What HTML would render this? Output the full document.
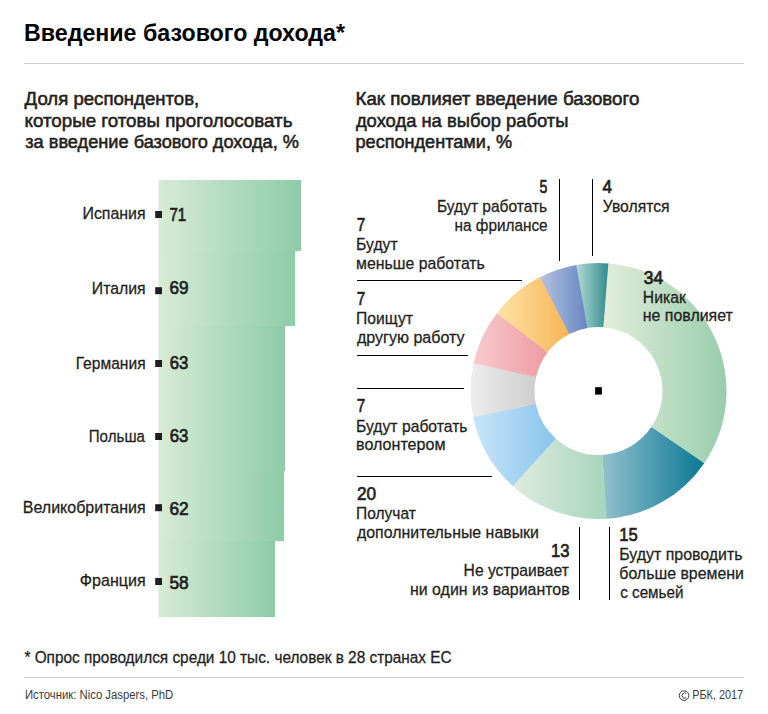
<!DOCTYPE html>
<html><head><meta charset="utf-8"><style>
html,body{margin:0;padding:0;background:#fff;width:768px;height:714px;overflow:hidden}
svg{display:block}
text{font-family:"Liberation Sans",sans-serif}
</style></head><body>
<svg width="768" height="714" viewBox="0 0 768 714">
<defs>
<linearGradient id="gb" x1="0" y1="0" x2="1" y2="0"><stop offset="0" stop-color="#d7ebd4"/><stop offset="1" stop-color="#8dcca8"/></linearGradient>
<linearGradient id="g0" x1="0" y1="0" x2="1" y2="0"><stop offset="0" stop-color="#b5ddd5"/><stop offset="1" stop-color="#2f8a8c"/></linearGradient>
<linearGradient id="g1" x1="0" y1="0" x2="1" y2="0"><stop offset="0" stop-color="#e2edda"/><stop offset="1" stop-color="#98cdac"/></linearGradient>
<linearGradient id="g2" x1="0" y1="0" x2="1" y2="0"><stop offset="0" stop-color="#92c0cd"/><stop offset="1" stop-color="#0a7894"/></linearGradient>
<linearGradient id="g3" x1="0" y1="0" x2="1" y2="0"><stop offset="0" stop-color="#dfebdf"/><stop offset="1" stop-color="#a6d5bd"/></linearGradient>
<linearGradient id="g4" x1="0" y1="0" x2="1" y2="0"><stop offset="0" stop-color="#c8e5f8"/><stop offset="1" stop-color="#88c4ec"/></linearGradient>
<linearGradient id="g5" x1="0" y1="0" x2="1" y2="0"><stop offset="0" stop-color="#ededed"/><stop offset="1" stop-color="#cdcdcd"/></linearGradient>
<linearGradient id="g6" x1="0" y1="0" x2="1" y2="0"><stop offset="0" stop-color="#f7cbcd"/><stop offset="1" stop-color="#ee9aa0"/></linearGradient>
<linearGradient id="g7" x1="0" y1="0" x2="1" y2="0"><stop offset="0" stop-color="#fee3a5"/><stop offset="1" stop-color="#f6b457"/></linearGradient>
<linearGradient id="g8" x1="0" y1="0" x2="1" y2="0"><stop offset="0" stop-color="#b5c3e1"/><stop offset="1" stop-color="#6886c2"/></linearGradient>
</defs>
<rect x="158.5" y="180" width="142.5" height="71" fill="url(#gb)"/>
<rect x="158.5" y="251" width="136.5" height="75" fill="url(#gb)"/>
<rect x="158.5" y="326" width="126.5" height="74" fill="url(#gb)"/>
<rect x="158.5" y="400" width="126.5" height="71" fill="url(#gb)"/>
<rect x="158.5" y="471" width="125.5" height="70" fill="url(#gb)"/>
<rect x="158.5" y="541" width="116.5" height="76" fill="url(#gb)"/>
<rect x="155.2" y="211" width="6.8" height="7" fill="#1f1f1f"/>
<rect x="155.2" y="287.2" width="6.8" height="7" fill="#1f1f1f"/>
<rect x="155.2" y="360" width="6.8" height="7" fill="#1f1f1f"/>
<rect x="155.2" y="433" width="6.8" height="7" fill="#1f1f1f"/>
<rect x="155.2" y="504.2" width="6.8" height="7" fill="#1f1f1f"/>
<rect x="155.2" y="578" width="6.8" height="7" fill="#1f1f1f"/>
<path d="M575.61 265.06 A128 128 0 0 1 608.99 263.43 L603.74 327.22 A64 64 0 0 0 587.06 328.03Z" fill="url(#g0)"/>
<path d="M608.32 263.38 A128 128 0 0 1 703.86 463.68 L651.18 427.34 A64 64 0 0 0 603.41 327.19Z" fill="url(#g1)"/>
<path d="M704.24 463.13 A128 128 0 0 1 606.09 518.77 L602.30 454.89 A64 64 0 0 0 651.37 427.07Z" fill="url(#g2)"/>
<path d="M606.76 518.73 A128 128 0 0 1 512.35 485.67 L555.43 438.34 A64 64 0 0 0 602.63 454.87Z" fill="url(#g3)"/>
<path d="M512.85 486.12 A128 128 0 0 1 473.07 416.52 L535.78 403.76 A64 64 0 0 0 555.68 438.56Z" fill="url(#g4)"/>
<path d="M473.20 417.18 A128 128 0 0 1 473.73 362.42 L536.12 376.71 A64 64 0 0 0 535.85 404.09Z" fill="url(#g5)"/>
<path d="M473.58 363.08 A128 128 0 0 1 497.09 312.90 L547.79 351.95 A64 64 0 0 0 536.04 377.04Z" fill="url(#g6)"/>
<path d="M496.68 313.43 A128 128 0 0 1 540.59 276.85 L569.54 333.92 A64 64 0 0 0 547.59 352.22Z" fill="url(#g7)"/>
<path d="M539.99 277.15 A128 128 0 0 1 576.27 264.94 L587.39 327.97 A64 64 0 0 0 569.25 334.08Z" fill="url(#g8)"/>
<rect x="595.1" y="387.2" width="6.8" height="7.4" fill="#000"/>
<circle cx="684.1" cy="695.6" r="4.8" fill="none" stroke="#3a3a3a" stroke-width="1"/>
<path d="M686.3 693.6 A2.6 2.6 0 1 0 686.3 697.6" fill="none" stroke="#3a3a3a" stroke-width="1"/>
<line x1="24" y1="63.5" x2="744" y2="63.5" stroke="#cfcfcf" stroke-width="1"/>
<line x1="24" y1="677.5" x2="744" y2="677.5" stroke="#cfcfcf" stroke-width="1"/>
<line x1="559.5" y1="179" x2="559.5" y2="261" stroke="#000" stroke-width="1"/>
<line x1="592.5" y1="179" x2="592.5" y2="256" stroke="#000" stroke-width="1"/>
<line x1="357" y1="280.5" x2="522" y2="280.5" stroke="#000" stroke-width="1"/>
<line x1="357" y1="355.5" x2="468" y2="355.5" stroke="#000" stroke-width="1"/>
<line x1="357" y1="388.5" x2="464" y2="388.5" stroke="#000" stroke-width="1"/>
<line x1="357" y1="476.5" x2="492" y2="476.5" stroke="#000" stroke-width="1"/>
<line x1="579.5" y1="527" x2="579.5" y2="600" stroke="#000" stroke-width="1"/>
<line x1="609.5" y1="527" x2="609.5" y2="600" stroke="#000" stroke-width="1"/>
<text transform="translate(24.06 40.90) scale(0.9394 1)" font-size="24.71" font-weight="700" fill="#000">Введение базового дохода*</text>
<text transform="translate(24.60 105.20) scale(1.0258 1)" font-size="18.13" font-weight="400" fill="#1f1f1f" stroke="#1f1f1f" stroke-width="0.55">Доля респондентов,</text>
<text transform="translate(24.46 126.60) scale(1.0360 1)" font-size="18.13" font-weight="400" fill="#1f1f1f" stroke="#1f1f1f" stroke-width="0.55">которые готовы проголосовать</text>
<text transform="translate(25.20 147.50) scale(1.0041 1)" font-size="18.13" font-weight="400" fill="#1f1f1f" stroke="#1f1f1f" stroke-width="0.55">за введение базового дохода, %</text>
<text transform="translate(355.47 105.20) scale(1.0340 1)" font-size="18.13" font-weight="400" fill="#1f1f1f" stroke="#1f1f1f" stroke-width="0.55">Как повлияет введение базового</text>
<text transform="translate(355.90 126.60) scale(1.0134 1)" font-size="18.13" font-weight="400" fill="#1f1f1f" stroke="#1f1f1f" stroke-width="0.55">дохода на выбор работы</text>
<text transform="translate(355.50 147.50) scale(0.9993 1)" font-size="18.13" font-weight="400" fill="#1f1f1f" stroke="#1f1f1f" stroke-width="0.55">респондентами, %</text>
<text transform="translate(82.49 218.80) scale(0.9142 1)" font-size="17.4" font-weight="400" fill="#1f1f1f" stroke="#1f1f1f" stroke-width="0.3">Испания</text>
<text transform="translate(91.79 293.50) scale(0.9083 1)" font-size="17.4" font-weight="400" fill="#1f1f1f" stroke="#1f1f1f" stroke-width="0.3">Италия</text>
<text transform="translate(75.70 369.00) scale(0.8962 1)" font-size="17.4" font-weight="400" fill="#1f1f1f" stroke="#1f1f1f" stroke-width="0.3">Германия</text>
<text transform="translate(88.73 442.00) scale(0.8695 1)" font-size="17.4" font-weight="400" fill="#1f1f1f" stroke="#1f1f1f" stroke-width="0.3">Польша</text>
<text transform="translate(22.73 512.80) scale(0.9206 1)" font-size="17.4" font-weight="400" fill="#1f1f1f" stroke="#1f1f1f" stroke-width="0.3">Великобритания</text>
<text transform="translate(79.78 585.70) scale(0.9249 1)" font-size="17.4" font-weight="400" fill="#1f1f1f" stroke="#1f1f1f" stroke-width="0.3">Франция</text>
<text transform="translate(169.40 220.80) scale(0.8235 1)" font-size="18.27" font-weight="400" fill="#1f1f1f" stroke="#1f1f1f" stroke-width="0.7">71</text>
<text transform="translate(169.60 293.60) scale(0.9376 1)" font-size="18.27" font-weight="400" fill="#1f1f1f" stroke="#1f1f1f" stroke-width="0.7">69</text>
<text transform="translate(169.80 368.60) scale(0.9177 1)" font-size="18.27" font-weight="400" fill="#1f1f1f" stroke="#1f1f1f" stroke-width="0.7">63</text>
<text transform="translate(169.80 441.70) scale(0.9177 1)" font-size="18.27" font-weight="400" fill="#1f1f1f" stroke="#1f1f1f" stroke-width="0.7">63</text>
<text transform="translate(169.50 515.20) scale(0.9475 1)" font-size="18.27" font-weight="400" fill="#1f1f1f" stroke="#1f1f1f" stroke-width="0.7">62</text>
<text transform="translate(169.50 588.60) scale(0.9475 1)" font-size="18.27" font-weight="400" fill="#1f1f1f" stroke="#1f1f1f" stroke-width="0.7">58</text>
<text transform="translate(539.60 192.80) scale(0.7600 1)" font-size="18.64" font-weight="400" fill="#1f1f1f" stroke="#1f1f1f" stroke-width="0.7">5</text>
<text transform="translate(437.00 212.00) scale(0.9036 1)" font-size="17.18" font-weight="400" fill="#1f1f1f" stroke="#1f1f1f" stroke-width="0.3">Будут работать</text>
<text transform="translate(454.61 230.90) scale(0.8928 1)" font-size="17.18" font-weight="400" fill="#1f1f1f" stroke="#1f1f1f" stroke-width="0.3">на фрилансе</text>
<text transform="translate(602.60 193.00) scale(0.9200 1)" font-size="18.64" font-weight="400" fill="#1f1f1f" stroke="#1f1f1f" stroke-width="0.7">4</text>
<text transform="translate(602.80 211.50) scale(0.9157 1)" font-size="17.18" font-weight="400" fill="#1f1f1f" stroke="#1f1f1f" stroke-width="0.3">Уволятся</text>
<text transform="translate(356.80 230.75) scale(0.8200 1)" font-size="18.64" font-weight="400" fill="#1f1f1f" stroke="#1f1f1f" stroke-width="0.7">7</text>
<text transform="translate(356.09 250.00) scale(0.9143 1)" font-size="17.18" font-weight="400" fill="#1f1f1f" stroke="#1f1f1f" stroke-width="0.3">Будут</text>
<text transform="translate(356.08 268.90) scale(0.9221 1)" font-size="17.18" font-weight="400" fill="#1f1f1f" stroke="#1f1f1f" stroke-width="0.3">меньше работать</text>
<text transform="translate(356.80 304.80) scale(0.8200 1)" font-size="18.64" font-weight="400" fill="#1f1f1f" stroke="#1f1f1f" stroke-width="0.7">7</text>
<text transform="translate(356.09 324.00) scale(0.9122 1)" font-size="17.18" font-weight="400" fill="#1f1f1f" stroke="#1f1f1f" stroke-width="0.3">Поищут</text>
<text transform="translate(357.00 343.10) scale(0.9340 1)" font-size="17.18" font-weight="400" fill="#1f1f1f" stroke="#1f1f1f" stroke-width="0.3">другую работу</text>
<text transform="translate(356.80 411.70) scale(0.8200 1)" font-size="18.64" font-weight="400" fill="#1f1f1f" stroke="#1f1f1f" stroke-width="0.7">7</text>
<text transform="translate(356.09 431.50) scale(0.9135 1)" font-size="17.18" font-weight="400" fill="#1f1f1f" stroke="#1f1f1f" stroke-width="0.3">Будут работать</text>
<text transform="translate(356.06 450.00) scale(0.9368 1)" font-size="17.18" font-weight="400" fill="#1f1f1f" stroke="#1f1f1f" stroke-width="0.3">волонтером</text>
<text transform="translate(357.00 499.80) scale(0.9235 1)" font-size="18.64" font-weight="400" fill="#1f1f1f" stroke="#1f1f1f" stroke-width="0.7">20</text>
<text transform="translate(356.10 519.00) scale(0.9044 1)" font-size="17.18" font-weight="400" fill="#1f1f1f" stroke="#1f1f1f" stroke-width="0.3">Получат</text>
<text transform="translate(357.00 537.60) scale(0.9259 1)" font-size="17.18" font-weight="400" fill="#1f1f1f" stroke="#1f1f1f" stroke-width="0.3">дополнительные навыки</text>
<text transform="translate(550.91 556.75) scale(0.8937 1)" font-size="18.64" font-weight="400" fill="#1f1f1f" stroke="#1f1f1f" stroke-width="0.7">13</text>
<text transform="translate(463.59 575.90) scale(0.9109 1)" font-size="17.18" font-weight="400" fill="#1f1f1f" stroke="#1f1f1f" stroke-width="0.3">Не устраивает</text>
<text transform="translate(409.97 595.10) scale(0.9281 1)" font-size="17.18" font-weight="400" fill="#1f1f1f" stroke="#1f1f1f" stroke-width="0.3">ни один из вариантов</text>
<text transform="translate(619.31 540.60) scale(0.8937 1)" font-size="18.64" font-weight="400" fill="#1f1f1f" stroke="#1f1f1f" stroke-width="0.7">15</text>
<text transform="translate(619.27 560.00) scale(0.9271 1)" font-size="17.18" font-weight="400" fill="#1f1f1f" stroke="#1f1f1f" stroke-width="0.3">Будут проводить</text>
<text transform="translate(619.28 578.75) scale(0.9246 1)" font-size="17.18" font-weight="400" fill="#1f1f1f" stroke="#1f1f1f" stroke-width="0.3">больше времени</text>
<text transform="translate(620.20 597.90) scale(0.8857 1)" font-size="17.18" font-weight="400" fill="#1f1f1f" stroke="#1f1f1f" stroke-width="0.3">с семьей</text>
<text transform="translate(643.75 283.75) scale(0.9357 1)" font-size="18.64" font-weight="400" fill="#1f1f1f" stroke="#1f1f1f" stroke-width="0.7">34</text>
<text transform="translate(642.83 302.50) scale(0.9153 1)" font-size="17.18" font-weight="400" fill="#1f1f1f" stroke="#1f1f1f" stroke-width="0.3">Никак</text>
<text transform="translate(642.83 321.25) scale(0.9250 1)" font-size="17.18" font-weight="400" fill="#1f1f1f" stroke="#1f1f1f" stroke-width="0.3">не повлияет</text>
<text transform="translate(24.40 662.90) scale(0.9310 1)" font-size="16.52" font-weight="400" fill="#1f1f1f" stroke="#1f1f1f" stroke-width="0.3">* Опрос проводился среди 10 тыс. человек в 28 странах ЕС</text>
<text transform="translate(24.91 699.20) scale(0.8912 1)" font-size="12.72" font-weight="400" fill="#3a3a3a">Источник: Nico Jaspers, PhD</text>
<text transform="translate(692.27 698.90) scale(0.8343 1)" font-size="13.01" font-weight="400" fill="#3a3a3a">РБК, 2017</text>
</svg>
</body></html>
